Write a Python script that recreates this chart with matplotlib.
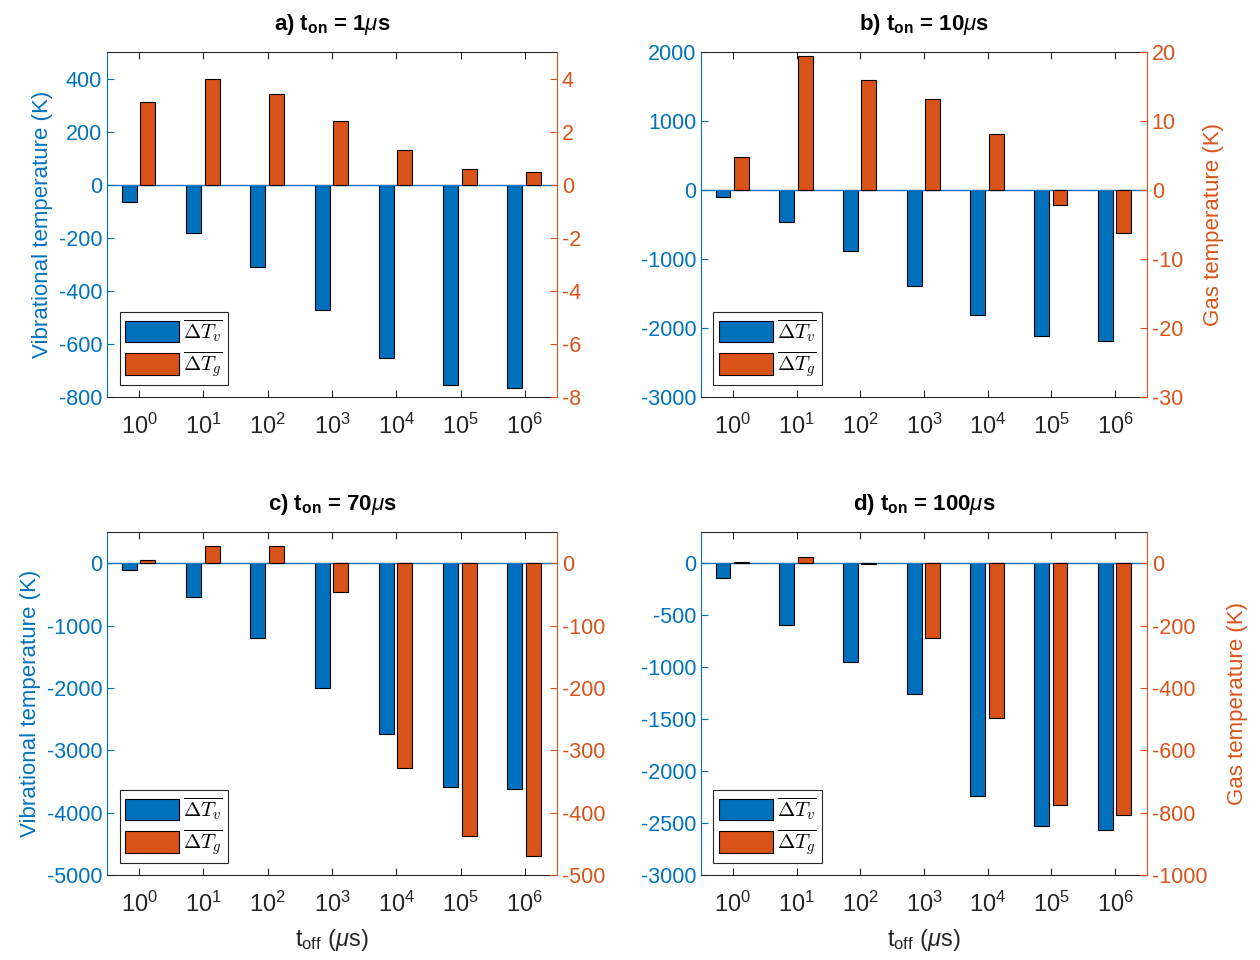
import numpy as np
import matplotlib
matplotlib.use('Agg')
import matplotlib.pyplot as plt
from matplotlib.patches import Patch

plt.rcParams['font.family'] = ['Liberation Sans', 'DejaVu Sans']
plt.rcParams['mathtext.fontset'] = 'custom'
plt.rcParams['mathtext.rm'] = 'Liberation Sans'
plt.rcParams['mathtext.it'] = 'Liberation Sans:italic'
plt.rcParams['mathtext.bf'] = 'Liberation Sans:bold'
plt.rcParams['axes.unicode_minus'] = False

# data
toff_exp = [0, 1, 2, 3, 4, 5, 6]
titles = [r'a) t$_\mathbf{on}$ = 1$\mu$s', r'b) t$_\mathbf{on}$ = 10$\mu$s',
          r'c) t$_\mathbf{on}$ = 70$\mu$s', r'd) t$_\mathbf{on}$ = 100$\mu$s']

dTv_1 = [-65, -181, -311, -472, -654, -756, -766]
dTg_1 = [3.1, 4.0, 3.4, 2.4, 1.3, 0.58, 0.48]
dTv_10 = [-106, -459, -889, -1386, -1816, -2116, -2193]
dTg_10 = [4.8, 19.4, 15.9, 13.2, 8.1, -2.2, -6.2]
dTv_70 = [-106, -537, -1197, -1995, -2739, -3590, -3622]
dTg_70 = [4.8, 28, 27, -47, -329, -437, -469]
dTv_100 = [-141, -596, -946, -1260, -2237, -2529, -2564]
dTg_100 = [5, 20, -2, -239, -496, -777, -809]

Tv = [dTv_1, dTv_10, dTv_70, dTv_100]
Tg = [dTg_1, dTg_10, dTg_70, dTg_100]

left_lim = [(-800, 500), (-3000, 2000), (-5000, 500), (-3000, 300)]
left_ticks = [np.arange(-800, 401, 200), np.arange(-3000, 2001, 1000),
              np.arange(-5000, 1, 1000), np.arange(-3000, 1, 500)]
right_lim = [(-8, 5), (-30, 20), (-500, 50), (-1000, 100)]
right_ticks = [np.arange(-8, 5, 2), np.arange(-30, 21, 10),
               np.arange(-500, 1, 100), np.arange(-1000, 1, 200)]

blue = '#0072BD'
orange = '#D95319'
dark = '#262626'

# axes positions in pixels (left, top, right, bottom)
boxes = [(107, 52, 557, 397), (701, 52, 1147, 397),
         (107, 532, 557, 875), (701, 532, 1147, 875)]

fig = plt.figure(figsize=(12.6, 9.6), dpi=100)
x = np.arange(1, 8)

for i in range(4):
    l, t, r, b = boxes[i]
    ax = fig.add_axes([l / 1260, 1 - b / 960, (r - l) / 1260, (b - t) / 960])
    ax2 = ax.twinx()

    ax.bar(x - 0.155, Tv[i], width=0.233, color=blue, edgecolor='black', linewidth=0.8)
    ax.axhline(0, color=blue, lw=1)
    ax2.bar(x + 0.135, Tg[i], width=0.233, color=orange, edgecolor='black', linewidth=0.8)

    ax.set_xlim(0.5, 7.5)
    ax.set_ylim(*left_lim[i])
    ax.set_yticks(left_ticks[i])
    ax2.set_ylim(*right_lim[i])
    ax2.set_yticks(right_ticks[i])
    ax.set_xticks(x)
    ax.set_xticklabels([r'$10^{%d}$' % e for e in toff_exp])

    ax.tick_params(axis='x', direction='in', top=True, length=5, colors=dark,
                   labelsize=17, pad=12, labelcolor=dark)
    ax.tick_params(axis='y', direction='in', length=5, colors=blue, labelsize=15.5)
    ax2.tick_params(axis='y', direction='in', length=5, colors=orange, labelsize=15.5)

    for s in ['top', 'bottom']:
        ax.spines[s].set_color(dark)
        ax2.spines[s].set_visible(False)
    ax.spines['left'].set_color(blue)
    ax.spines['right'].set_visible(False)
    ax2.spines['left'].set_visible(False)
    ax2.spines['right'].set_color(orange)

    ax.set_title(titles[i], fontsize=16, fontweight='bold', pad=16)
    if i % 2 == 0:
        ax.set_ylabel('Vibrational temperature (K)', color=blue, fontsize=16, labelpad=4)
    else:
        ax2.set_ylabel('Gas temperature (K)', color=orange, fontsize=16, labelpad=14)
    if i >= 2:
        ax.set_xlabel(r't$_{\rm off}$ ($\mu$s)', fontsize=17, color=dark, labelpad=7)

    handles = [Patch(facecolor=blue, edgecolor='black', linewidth=0.8),
               Patch(facecolor=orange, edgecolor='black', linewidth=0.8)]
    leg = ax2.legend(handles, [r'$\overline{\Delta T_v}$', r'$\overline{\Delta T_g}$'],
                     loc='lower left', bbox_to_anchor=(0.028, 0.035),
                     prop=dict(math_fontfamily='cm', size=15),
                     handlelength=2.6, handleheight=1.2, handletextpad=0.2,
                     borderpad=0.25, labelspacing=0.25, borderaxespad=0,
                     fancybox=False, framealpha=1, edgecolor=dark)
    leg.get_frame().set_linewidth(0.8)

fig.savefig('out.png', dpi=100)
